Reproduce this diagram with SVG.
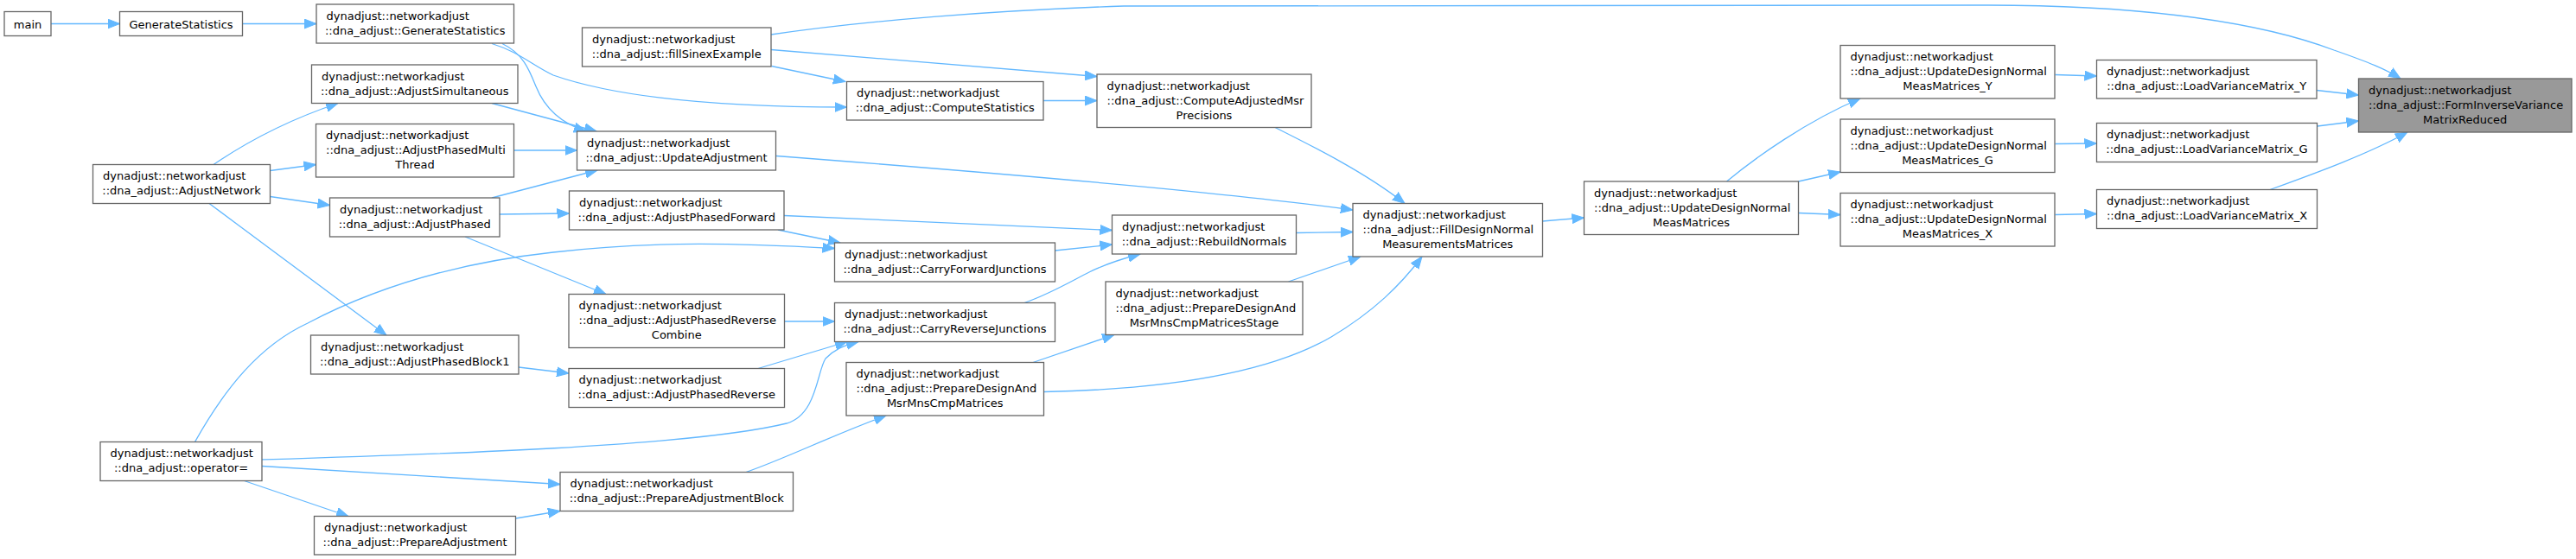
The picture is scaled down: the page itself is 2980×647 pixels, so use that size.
<svg xmlns="http://www.w3.org/2000/svg" width="2980" height="647" viewBox="0 0 2980 647">
<defs>
<marker id="arr" markerUnits="userSpaceOnUse" markerWidth="15" markerHeight="12" viewBox="0 0 15 12" refX="14" refY="6" orient="auto">
<path d="M0,0.5 L14,6 L0,11.5 z" fill="#63b8ff" stroke="#63b8ff" stroke-width="1"/>
</marker>
<style>
.node rect{fill:#ffffff;stroke:#666666;stroke-width:1.3}
.hl rect{fill:#999999}
text{font-family:"DejaVu Sans",sans-serif;font-size:13px;fill:#000000}
.c{text-anchor:middle}
#edges path{fill:none;stroke:#63b8ff;stroke-width:1.3;marker-end:url(#arr)}
</style>
</defs>
<rect x="0" y="0" width="2980" height="647" fill="#ffffff"/>
<g id="edges">
<path d="M59,27.5 L138.5,27.5"/>
<path d="M280.5,27.5 L366,27.5"/>
<path d="M247,190.5 C280,168 330,140 391,119.5"/>
<path d="M312.5,197.5 L365.5,190.5"/>
<path d="M312.5,227.5 L381.5,237.5"/>
<path d="M242,235.5 L447,388"/>
<path d="M569,50.5 C600,60 615,75 640,87 C720,115 850,124 979.5,124"/>
<path d="M581,50.5 C605,62 612,80 620,100 C630,125 650,143 678,152"/>
<path d="M569,119.5 L690,152"/>
<path d="M594.5,174 L667.5,174"/>
<path d="M569,229 L691,197"/>
<path d="M578,248 L658.5,247"/>
<path d="M538,274 L701,340.5"/>
<path d="M225.5,511.5 C260,450 300,400 356,374 C430,335 520,305 640,292 C760,278 860,282 965.5,287.5"/>
<path d="M303,532 C500,526 800,517 910,490 C945,480 945,430 955,415 C965,405 975,400 993,395.5"/>
<path d="M303,539.5 L648,560.5"/>
<path d="M282.5,556.5 L403,597.5"/>
<path d="M596.5,600 L648,591.5"/>
<path d="M863,546.5 C910,530 960,505 1025,481"/>
<path d="M600,425 L658,432"/>
<path d="M907.5,372 L965.5,372"/>
<path d="M877,426.5 L980,395.5"/>
<path d="M892.5,76.5 L978,94.5"/>
<path d="M892,57.5 L1269,88.5"/>
<path d="M892,40 C1000,24 1150,12 1300,7 L2300,6 C2450,6 2600,20 2700,58 C2740,72 2760,80 2777,91"/>
<path d="M1207,116.5 L1269,116.5"/>
<path d="M898,180.5 C1100,196 1400,220 1565,243"/>
<path d="M907,249.5 L1286.5,266.5"/>
<path d="M900,266 L972,281"/>
<path d="M1220.5,290 L1286.5,283"/>
<path d="M1185,350.5 C1215,340 1240,325 1260,315 C1280,305 1300,299 1319,294"/>
<path d="M1195,419.5 L1289,387.5"/>
<path d="M1207.5,453.5 C1380,450 1480,425 1540,390 C1590,360 1620,330 1645,297"/>
<path d="M1490.5,326 L1574,297"/>
<path d="M1499.5,269.5 L1565,268.5"/>
<path d="M1475,147.5 C1520,170 1580,200 1625,235.5"/>
<path d="M1784.5,256 L1832.5,252"/>
<path d="M1997.5,210 C2030,183 2090,140 2152,114"/>
<path d="M2080.5,210 L2129,199"/>
<path d="M2080.5,246.5 L2129,248.5"/>
<path d="M2377.5,86.5 L2425.5,88"/>
<path d="M2377.5,166.5 L2425.5,166"/>
<path d="M2377.5,248.5 L2425.5,247.5"/>
<path d="M2680,104.5 L2728.5,110"/>
<path d="M2681,146 L2728.5,140"/>
<path d="M2626,219.5 C2680,200 2740,178 2785,153"/>
</g>
<g id="n_main" class="node"><rect x="5" y="13.5" width="54" height="28"/><text class="c" x="32" y="32.5">main</text></g>
<g id="n_gs" class="node"><rect x="138.5" y="13.5" width="142" height="28"/><text class="c" x="209.5" y="32.5">GenerateStatistics</text></g>
<g id="n_dgs" class="node"><rect x="366" y="5" width="228.5" height="45"/><text x="377.5" y="22.5">dynadjust::networkadjust</text><text class="c" x="480.25" y="39.5">::dna_adjust::GenerateStatistics</text></g>
<g id="n_as" class="node"><rect x="360.5" y="75" width="238.5" height="44.5"/><text x="372" y="92.5">dynadjust::networkadjust</text><text class="c" x="479.75" y="109.5">::dna_adjust::AdjustSimultaneous</text></g>
<g id="n_apmt" class="node"><rect x="365.5" y="143.5" width="229" height="61.5"/><text x="377" y="161">dynadjust::networkadjust</text><text x="377" y="178">::dna_adjust::AdjustPhasedMulti</text><text class="c" x="480" y="195">Thread</text></g>
<g id="n_an" class="node"><rect x="107.5" y="190.5" width="205" height="45"/><text x="119" y="208">dynadjust::networkadjust</text><text class="c" x="210" y="225">::dna_adjust::AdjustNetwork</text></g>
<g id="n_ap" class="node"><rect x="381.5" y="229" width="196.5" height="45"/><text x="393" y="246.5">dynadjust::networkadjust</text><text class="c" x="479.75" y="263.5">::dna_adjust::AdjustPhased</text></g>
<g id="n_apb1" class="node"><rect x="359.5" y="388" width="240.5" height="45"/><text x="371" y="405.5">dynadjust::networkadjust</text><text class="c" x="479.75" y="422.5">::dna_adjust::AdjustPhasedBlock1</text></g>
<g id="n_op" class="node"><rect x="116" y="511.5" width="187" height="45"/><text x="127.5" y="529">dynadjust::networkadjust</text><text class="c" x="209.5" y="546">::dna_adjust::operator=</text></g>
<g id="n_pa" class="node"><rect x="363.5" y="597.5" width="233" height="44.5"/><text x="375" y="615">dynadjust::networkadjust</text><text class="c" x="480" y="632">::dna_adjust::PrepareAdjustment</text></g>
<g id="n_fse" class="node"><rect x="673.5" y="32" width="218.5" height="45"/><text x="685" y="49.5">dynadjust::networkadjust</text><text class="c" x="782.75" y="66.5">::dna_adjust::fillSinexExample</text></g>
<g id="n_ua" class="node"><rect x="667.5" y="152" width="230" height="45"/><text x="679" y="169.5">dynadjust::networkadjust</text><text class="c" x="782.5" y="186.5">::dna_adjust::UpdateAdjustment</text></g>
<g id="n_apf" class="node"><rect x="658.5" y="221" width="248.5" height="45"/><text x="670" y="238.5">dynadjust::networkadjust</text><text class="c" x="782.75" y="255.5">::dna_adjust::AdjustPhasedForward</text></g>
<g id="n_aprc" class="node"><rect x="658" y="340.5" width="249.5" height="62"/><text x="669.5" y="358">dynadjust::networkadjust</text><text x="669.5" y="375">::dna_adjust::AdjustPhasedReverse</text><text class="c" x="782.75" y="392">Combine</text></g>
<g id="n_apr" class="node"><rect x="658" y="426.5" width="249.5" height="45"/><text x="669.5" y="444">dynadjust::networkadjust</text><text class="c" x="782.75" y="461">::dna_adjust::AdjustPhasedReverse</text></g>
<g id="n_pab" class="node"><rect x="648" y="546.5" width="269.5" height="45"/><text x="659.5" y="564">dynadjust::networkadjust</text><text class="c" x="782.75" y="581">::dna_adjust::PrepareAdjustmentBlock</text></g>
<g id="n_cs" class="node"><rect x="979.5" y="94.5" width="227.5" height="44.5"/><text x="991" y="112">dynadjust::networkadjust</text><text class="c" x="1093.25" y="129">::dna_adjust::ComputeStatistics</text></g>
<g id="n_cfj" class="node"><rect x="965.5" y="281" width="255" height="45"/><text x="977" y="298.5">dynadjust::networkadjust</text><text class="c" x="1093" y="315.5">::dna_adjust::CarryForwardJunctions</text></g>
<g id="n_crj" class="node"><rect x="965.5" y="350.5" width="255" height="45"/><text x="977" y="368">dynadjust::networkadjust</text><text class="c" x="1093" y="385">::dna_adjust::CarryReverseJunctions</text></g>
<g id="n_pdm" class="node"><rect x="979" y="419.5" width="228.5" height="61.5"/><text x="990.5" y="437">dynadjust::networkadjust</text><text x="990.5" y="454">::dna_adjust::PrepareDesignAnd</text><text class="c" x="1093.25" y="471">MsrMnsCmpMatrices</text></g>
<g id="n_camp" class="node"><rect x="1269" y="86" width="248" height="61.5"/><text x="1280.5" y="103.5">dynadjust::networkadjust</text><text x="1280.5" y="120.5">::dna_adjust::ComputeAdjustedMsr</text><text class="c" x="1393" y="137.5">Precisions</text></g>
<g id="n_rn" class="node"><rect x="1286.5" y="249" width="213" height="45"/><text x="1298" y="266.5">dynadjust::networkadjust</text><text class="c" x="1393" y="283.5">::dna_adjust::RebuildNormals</text></g>
<g id="n_pdms" class="node"><rect x="1279" y="326" width="228" height="61.5"/><text x="1290.5" y="343.5">dynadjust::networkadjust</text><text x="1290.5" y="360.5">::dna_adjust::PrepareDesignAnd</text><text class="c" x="1393" y="377.5">MsrMnsCmpMatricesStage</text></g>
<g id="n_fdn" class="node"><rect x="1565" y="235.5" width="219.5" height="61.5"/><text x="1576.5" y="253">dynadjust::networkadjust</text><text x="1576.5" y="270">::dna_adjust::FillDesignNormal</text><text class="c" x="1674.75" y="287">MeasurementsMatrices</text></g>
<g id="n_udn" class="node"><rect x="1832.5" y="210" width="248" height="61.5"/><text x="1844" y="227.5">dynadjust::networkadjust</text><text x="1844" y="244.5">::dna_adjust::UpdateDesignNormal</text><text class="c" x="1956.5" y="261.5">MeasMatrices</text></g>
<g id="n_uy" class="node"><rect x="2129" y="52.5" width="248" height="61.5"/><text x="2140.5" y="70">dynadjust::networkadjust</text><text x="2140.5" y="87">::dna_adjust::UpdateDesignNormal</text><text class="c" x="2253" y="104">MeasMatrices_Y</text></g>
<g id="n_ug" class="node"><rect x="2129" y="138" width="248" height="61.5"/><text x="2140.5" y="155.5">dynadjust::networkadjust</text><text x="2140.5" y="172.5">::dna_adjust::UpdateDesignNormal</text><text class="c" x="2253" y="189.5">MeasMatrices_G</text></g>
<g id="n_ux" class="node"><rect x="2129" y="223.5" width="248" height="61.5"/><text x="2140.5" y="241">dynadjust::networkadjust</text><text x="2140.5" y="258">::dna_adjust::UpdateDesignNormal</text><text class="c" x="2253" y="275">MeasMatrices_X</text></g>
<g id="n_ly" class="node"><rect x="2425.5" y="69.5" width="254.5" height="44.5"/><text x="2437" y="87">dynadjust::networkadjust</text><text class="c" x="2552.75" y="104">::dna_adjust::LoadVarianceMatrix_Y</text></g>
<g id="n_lg" class="node"><rect x="2425.5" y="142.5" width="255" height="45"/><text x="2437" y="160">dynadjust::networkadjust</text><text class="c" x="2553" y="177">::dna_adjust::LoadVarianceMatrix_G</text></g>
<g id="n_lx" class="node"><rect x="2425.5" y="219.5" width="255" height="45"/><text x="2437" y="237">dynadjust::networkadjust</text><text class="c" x="2553" y="254">::dna_adjust::LoadVarianceMatrix_X</text></g>
<g id="n_f" class="node hl"><rect x="2728.5" y="91" width="246.5" height="62"/><text x="2740" y="108.5">dynadjust::networkadjust</text><text x="2740" y="125.5">::dna_adjust::FormInverseVariance</text><text class="c" x="2851.75" y="142.5">MatrixReduced</text></g>
</svg>
